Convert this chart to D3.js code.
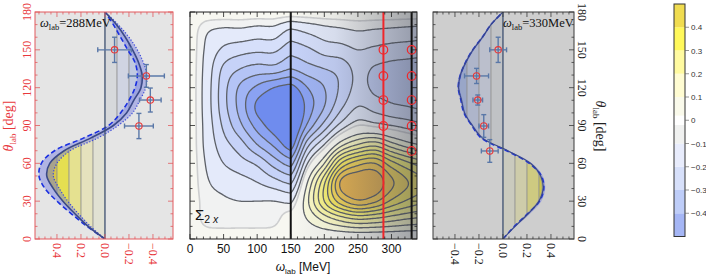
<!DOCTYPE html>
<html><head><meta charset="utf-8">
<script src="https://cdn.jsdelivr.net/npm/d3@7"></script>
<style>body{margin:0;background:#fff}svg{display:block}</style>
</head><body><svg id="c" width="706" height="276"></svg>
<script>
// ---------------- data ----------------
const thetaGrid = [0,15,30,45,60,75,90,105,120,135,150,165,180];
const omegaLeft = [0,25,50,75,100,125,150];
const sigmaLeft = [
  [0,0,0,0,0,0,0,0,0,0,0,0,0],
  [0,-0.03,-0.035,-0.045,-0.055,-0.065,-0.07,-0.075,-0.075,-0.07,-0.06,-0.045,0],
  [0,-0.035,-0.045,-0.065,-0.10,-0.13,-0.16,-0.18,-0.18,-0.16,-0.11,-0.06,0],
  [0,-0.035,-0.05,-0.08,-0.13,-0.18,-0.24,-0.27,-0.26,-0.20,-0.13,-0.06,0],
  [0,-0.035,-0.05,-0.10,-0.16,-0.25,-0.32,-0.36,-0.31,-0.22,-0.14,-0.07,0],
  [0,-0.03,-0.05,-0.13,-0.22,-0.31,-0.38,-0.40,-0.35,-0.22,-0.14,-0.07,0],
  [0,0.005,-0.06,-0.16,-0.27,-0.38,-0.43,-0.44,-0.37,-0.25,-0.18,-0.11,0]
];
const omegaRight = [175,200,225,250,275,300,325,350];
const sigmaRight = [
  [0,0.05,0.09,0.05,-0.05,-0.17,-0.29,-0.33,-0.30,-0.22,-0.16,-0.09,0],
  [0,0.11,0.25,0.24,0.10,-0.05,-0.18,-0.25,-0.25,-0.20,-0.13,-0.07,0],
  [0,0.16,0.38,0.46,0.30,0.08,-0.08,-0.16,-0.19,-0.18,-0.12,-0.06,0],
  [0,0.19,0.44,0.50,0.38,0.15,-0.02,-0.10,-0.135,-0.135,-0.10,-0.05,0],
  [0,0.18,0.41,0.49,0.40,0.18,-0.03,-0.12,-0.16,-0.155,-0.11,-0.055,0],
  [0,0.16,0.34,0.41,0.32,0.12,-0.05,-0.14,-0.17,-0.165,-0.12,-0.06,0],
  [0,0.14,0.29,0.35,0.26,0.07,-0.07,-0.15,-0.175,-0.17,-0.125,-0.065,0],
  [0,0.13,0.26,0.31,0.22,0.04,-0.09,-0.16,-0.18,-0.175,-0.13,-0.07,0]
];
const fillLevels = [-0.35,-0.3,-0.25,-0.2,-0.15,-0.1,-0.05,-0.02,0.05,0.1,0.15,0.2,0.25,0.3,0.35,0.4,0.45];
const fillColors = ["#6f8cee","#8aa2f2","#a0b4f4","#b4c4f6","#c6d2f8","#d6dffa","#e4eafa","#f1f2f2",
  "#f7f7f1","#fafadc","#fbf9c4","#fbf7a8","#f9f48c","#f6ef74","#f3e462","#f0d45a","#ebc456","#e4b252"];
const omegaTicks = [0,50,100,150,200,250,300];
const thetaTicks = [0,30,60,90,120,150,180];
const sigmaTicks = [-0.4,-0.2,0,0.2,0.4];
const markerOmegas = [150,288,330];

const thetaCurve = [0,10,20,30,40,50,60,70,80,90,100,110,120,130,140,150,160,170,180];
const sigma288  = [0,0.14,0.25,0.35,0.43,0.485,0.46,0.34,0.12,-0.07,-0.18,-0.24,-0.30,-0.31,-0.28,-0.23,-0.17,-0.095,0];
const dashed288 = [0,0.15,0.28,0.40,0.50,0.55,0.53,0.42,0.18,-0.03,-0.13,-0.20,-0.25,-0.27,-0.25,-0.19,-0.13,-0.07,0];
const dotted288 = [0,0.12,0.22,0.31,0.38,0.43,0.40,0.29,0.06,-0.11,-0.23,-0.29,-0.34,-0.35,-0.32,-0.27,-0.20,-0.11,0];
const sigma330  = [0,0.10,0.21,0.30,0.335,0.315,0.23,0.04,-0.17,-0.255,-0.32,-0.345,-0.37,-0.355,-0.31,-0.25,-0.17,-0.10,0];
const dashed330 = [0,0.095,0.205,0.305,0.34,0.32,0.22,0.03,-0.18,-0.26,-0.325,-0.35,-0.372,-0.355,-0.312,-0.252,-0.172,-0.10,0];
const bandOut330 = [0,0.11,0.225,0.32,0.352,0.332,0.242,0.05,-0.185,-0.265,-0.33,-0.355,-0.38,-0.365,-0.32,-0.26,-0.18,-0.105,0];
const bandIn330  = [0,0.09,0.195,0.288,0.322,0.302,0.218,0.03,-0.158,-0.245,-0.31,-0.335,-0.36,-0.345,-0.30,-0.24,-0.16,-0.095,0];

const data288Theta = [150,129.3,110.2,89.6];
const data288Sigma = [-0.08,-0.345,-0.378,-0.283];
const data288dSigma = [0.14,0.15,0.09,0.12];
const data288dTheta = [10,9,9.5,10];
const data330Theta = [150,129.3,110.2,89.6,69.8];
const data330Sigma = [-0.04,-0.22,-0.21,-0.16,-0.11];
const data330dSigma = [0.07,0.1,0.04,0.04,0.07];
const data330dTheta = [10,6,4,9,9];

const sideBandEdges = [-0.5,-0.4,-0.3,-0.2,-0.1,0,0.1,0.2,0.3,0.4,0.5];
const sideBandColors = ["#a5b6f5","#becdf8","#d7e0fa","#e8ecfc","#eef0f4","#fafaeb","#fffcd2","#fffaa0","#fff85a","#f0dc50"];
const cbEdges = [-0.5,-0.4,-0.3,-0.2,-0.1,-0.02,0.02,0.1,0.2,0.3,0.4,0.5];
const cbColors = ["#a5b6f5","#becdf8","#d7e0fa","#e8ecfc","#f0f1f0","#ffffff","#fafaeb","#fffcd2","#fffaa0","#fff85a","#f0dc50"];
const cbTicks = [0.4,0.3,0.2,0.1,0,-0.1,-0.2,-0.3,-0.4];

// ---------------- setup ----------------
const svg = d3.select("#c");
const defs = svg.append("defs");
const SERIF = "'Liberation Serif','Times New Roman',serif";
const SANS = "'Liberation Sans',Arial,sans-serif";
const Y0 = 12, Y1 = 239;
const yS = d3.scaleLinear().domain([0,180]).range([Y1,Y0]);
const fmt = v => (v<0?"\u2212":"") + Math.abs(v).toFixed(1);

function cr1(arr, u){
  const n = arr.length; let i = Math.floor(u);
  if (i >= n-1) return arr[n-1]; if (i < 0) return arr[0];
  const t = u - i;
  const p0 = arr[Math.max(i-1,0)], p1 = arr[i], p2 = arr[i+1], p3 = arr[Math.min(i+2,n-1)];
  return 0.5*((2*p1) + (-p0+p2)*t + (2*p0-5*p1+4*p2-p3)*t*t + (-p0+3*p1-3*p2+p3)*t*t*t);
}

function ticks(g, color, x0, x1, xs, xMaj, xMin, yMaj, yMin){
  const t = g.append("g").attr("stroke", color).attr("stroke-width", 0.8);
  xMaj.forEach(v=>{ const x=xs(v); t.append("line").attr("x1",x).attr("x2",x).attr("y1",Y1).attr("y2",Y1-5);
    t.append("line").attr("x1",x).attr("x2",x).attr("y1",Y0).attr("y2",Y0+5); });
  xMin.forEach(v=>{ const x=xs(v); t.append("line").attr("x1",x).attr("x2",x).attr("y1",Y1).attr("y2",Y1-2.5);
    t.append("line").attr("x1",x).attr("x2",x).attr("y1",Y0).attr("y2",Y0+2.5); });
  yMaj.forEach(v=>{ const y=yS(v); t.append("line").attr("x1",x0).attr("x2",x0+5).attr("y1",y).attr("y2",y);
    t.append("line").attr("x1",x1).attr("x2",x1-5).attr("y1",y).attr("y2",y); });
  yMin.forEach(v=>{ const y=yS(v); t.append("line").attr("x1",x0).attr("x2",x0+2.5).attr("y1",y).attr("y2",y);
    t.append("line").attr("x1",x1).attr("x2",x1-2.5).attr("y1",y).attr("y2",y); });
}
const thetaMinor = d3.range(0,181,10).filter(v=>v%30);
const sigMinor = d3.range(-0.55,0.56,0.05).map(v=>+v.toFixed(2)).filter(v=>Math.abs((v*10)%2)>0.01);

// ---------------- side panels ----------------
function sidePanel(cfg){
  const {id,x0,x1,xs,bg,frame,solid,dashed,bandA,bandB,dotted,tTheta,tSig,tdS,tdT,solidW} = cfg;
  const g = svg.append("g");
  defs.append("clipPath").attr("id",id+"r").append("rect").attr("x",x0).attr("y",Y0).attr("width",x1-x0).attr("height",Y1-Y0);
  g.append("rect").attr("x",x0).attr("y",Y0).attr("width",x1-x0).attr("height",Y1-Y0).attr("fill",bg);
  const gc = g.append("g").attr("clip-path",`url(#${id}r)`);
  const area0 = d3.area().curve(d3.curveCatmullRom).y((d,i)=>yS(thetaCurve[i])).x0(xs(0)).x1(d=>xs(d));
  defs.append("clipPath").attr("id",id+"a").append("path").attr("d",area0(solid));
  const ga = gc.append("g").attr("clip-path",`url(#${id}a)`);
  const b = d3.rgb(bg);
  sideBandColors.forEach((c,k)=>{
    const cc = d3.rgb(c);
    const m = d3.rgb(cc.r*b.r/255, cc.g*b.g/255, cc.b*b.b/255);
    const xa = xs(sideBandEdges[k]), xb = xs(sideBandEdges[k+1]);
    ga.append("rect").attr("x",Math.min(xa,xb)).attr("y",Y0).attr("width",Math.abs(xb-xa)).attr("height",Y1-Y0).attr("fill",m);
  });
  [-0.4,-0.3,-0.2,-0.1,0.1,0.2,0.3,0.4].forEach(v=>{
    ga.append("line").attr("x1",xs(v)).attr("x2",xs(v)).attr("y1",Y0).attr("y2",Y1).attr("stroke","#8d8d8d").attr("stroke-width",0.9);
  });
  const band = d3.area().curve(d3.curveCatmullRom).y((d,i)=>yS(thetaCurve[i])).x0((d,i)=>xs(bandA[i])).x1((d,i)=>xs(bandB[i]));
  gc.append("path").attr("d",band(thetaCurve)).attr("fill","rgba(110,120,225,0.45)");
  const line = arr => d3.line().curve(d3.curveCatmullRom).y((d,i)=>yS(thetaCurve[i])).x(d=>xs(d))(arr);
  if (dotted) gc.append("path").attr("d",line(dotted)).attr("fill","none").attr("stroke","#3a48d8").attr("stroke-width",1.2).attr("stroke-dasharray","1.2,1.8");
  gc.append("path").attr("d",line(dashed)).attr("fill","none").attr("stroke","#1a2fe0").attr("stroke-width",1.6).attr("stroke-dasharray","5,3");
  gc.append("path").attr("d",line(solid)).attr("fill","none").attr("stroke","#3b4a88").attr("stroke-width",solidW);
  gc.append("line").attr("x1",xs(0)).attr("x2",xs(0)).attr("y1",Y0).attr("y2",Y1).attr("stroke","#3e5070").attr("stroke-width",1.3);
  const ge = gc.append("g").attr("stroke","#5a78a8").attr("stroke-width",1.4);
  tTheta.forEach((t,i)=>{
    const cx = xs(tSig[i]), cy = yS(t);
    const xa = xs(tSig[i]-tdS[i]), xb = xs(tSig[i]+tdS[i]);
    const ya = yS(t-tdT[i]), yb = yS(t+tdT[i]);
    ge.append("line").attr("x1",xa).attr("x2",xb).attr("y1",cy).attr("y2",cy);
    ge.append("line").attr("x1",cx).attr("x2",cx).attr("y1",ya).attr("y2",yb);
    [xa,xb].forEach(x=>ge.append("line").attr("x1",x).attr("x2",x).attr("y1",cy-2.5).attr("y2",cy+2.5));
    [ya,yb].forEach(y=>ge.append("line").attr("x1",cx-2.5).attr("x2",cx+2.5).attr("y1",y).attr("y2",y));
  });
  tTheta.forEach((t,i)=>{
    gc.append("circle").attr("cx",xs(tSig[i])).attr("cy",yS(t)).attr("r",3.2).attr("fill","none").attr("stroke","#e83a3a").attr("stroke-width",1.1);
  });
  g.append("rect").attr("x",x0).attr("y",Y0).attr("width",x1-x0).attr("height",Y1-Y0).attr("fill","none").attr("stroke",frame).attr("stroke-width",1);
  ticks(g, frame, x0, x1, xs, sigmaTicks, sigMinor.filter(v=>xs(v)>x0+1&&xs(v)<x1-1), thetaTicks, thetaMinor);
  return g;
}

// Left panel (288 MeV)
const xL = d3.scaleLinear().domain([0.583,-0.567]).range([35,173]);
sidePanel({id:"pl",x0:35,x1:173,xs:xL,bg:"#e5e5e5",frame:"#e25a5e",solid:sigma288,dashed:dashed288,solidW:1.6,
  bandA:dashed288,bandB:dotted288,dotted:dotted288,tTheta:data288Theta,tSig:data288Sigma,tdS:data288dSigma,tdT:data288dTheta});
// Right panel (330 MeV)
const xR = d3.scaleLinear().domain([-0.583,0.592]).range([433,574]);
sidePanel({id:"pr",x0:433,x1:574,xs:xR,bg:"#cecece",frame:"#3a3a3a",solid:sigma330,dashed:dashed330,solidW:1.2,
  bandA:bandOut330,bandB:bandIn330,dotted:null,tTheta:data330Theta,tSig:data330Sigma,tdS:data330dSigma,tdT:data330dTheta});

// side panel labels
const RED = "#e8383c";
thetaTicks.forEach(t=>{
  svg.append("text").attr("transform",`translate(31,${yS(t)}) rotate(-90)`).attr("text-anchor","middle")
    .attr("font-family",SERIF).attr("font-size",12).attr("fill",RED).text(t);
  svg.append("text").attr("transform",`translate(578,${yS(t)}) rotate(90)`).attr("text-anchor","middle")
    .attr("font-family",SERIF).attr("font-size",12).attr("fill","#222").text(t);
});
sigmaTicks.forEach(v=>{
  svg.append("text").attr("transform",`translate(${xL(v)-4},243) rotate(90)`).attr("text-anchor","start")
    .attr("font-family",SERIF).attr("font-size",12).attr("fill",RED).text(fmt(v));
  svg.append("text").attr("transform",`translate(${xR(v)-4},243) rotate(90)`).attr("text-anchor","start")
    .attr("font-family",SERIF).attr("font-size",12).attr("fill","#222").text(fmt(v));
});
function thetaTitle(x, rot, color){
  const t = svg.append("text").attr("transform",`translate(${x},126) rotate(${rot})`).attr("text-anchor","middle")
    .attr("font-family",SERIF).attr("font-size",14).attr("fill",color);
  t.append("tspan").attr("font-style","italic").text("\u03b8");
  t.append("tspan").attr("font-size",9).attr("dy",3).text("lab");
  t.append("tspan").attr("dy",-3).text(" [deg]");
}
thetaTitle(13,-90,RED);
thetaTitle(596,90,"#222");
function omegaLabel(x, y, val){
  const t = svg.append("text").attr("x",x).attr("y",y).attr("font-family",SERIF).attr("font-size",12.5).attr("fill","#111");
  t.append("tspan").attr("font-style","italic").text("\u03c9");
  t.append("tspan").attr("font-size",8.5).attr("dy",3).text("lab");
  t.append("tspan").attr("dy",-3).text("="+val+"MeV");
}
omegaLabel(40,27,288);
omegaLabel(503,27,330);

// ---------------- middle contour panel ----------------
const MX0 = 190, MX1 = 417;
const xM = d3.scaleLinear().domain([0,338]).range([MX0,MX1]);
defs.append("clipPath").attr("id","mc").append("rect").attr("x",MX0).attr("y",Y0).attr("width",MX1-MX0).attr("height",Y1-Y0);
const gM = svg.append("g");
const gMc = gM.append("g").attr("clip-path","url(#mc)");

const dW = 2, nx = 170, ny = 181;
const colsR = [sigmaLeft[sigmaLeft.length-1], ...sigmaRight];
const values = new Float64Array(nx*ny);
for (let j=0;j<ny;j++){
  const u = j/15;
  const vL = sigmaLeft.map(c=>cr1(c,u));
  const vR = colsR.map(c=>cr1(c,u));
  for (let i=0;i<nx;i++){
    const w = i*dW;
    values[j*nx+i] = w<=150 ? cr1(vL, w/25) : cr1(vR, (w-150)/25);
  }
}
const proj = d3.geoTransform({point(x,y){ this.stream.point(xM((x-0.5)*dW), yS(y-0.5)); }});
const gp = d3.geoPath(proj);
const conts = d3.contours().size([nx,ny]).thresholds(fillLevels)(values);
gMc.append("rect").attr("x",MX0).attr("y",Y0).attr("width",MX1-MX0).attr("height",Y1-Y0).attr("fill",fillColors[0]);
conts.forEach((c,k)=>{
  gMc.append("path").attr("d",gp(c)).attr("fill",fillColors[k+1]);
});
conts.forEach((c,k)=>{
  const light = Math.abs(c.value) < 0.03;
  gMc.append("path").attr("d",gp(c)).attr("fill","none")
    .attr("stroke", light ? "#cdcecf" : "#5d6168").attr("stroke-width", light?1.6:1.3)
    .attr("stroke-linejoin","round");
});
// darkening overlay
const lg = defs.append("linearGradient").attr("id","ov").attr("gradientUnits","userSpaceOnUse")
  .attr("x1",xM(150)).attr("x2",MX1).attr("y1",0).attr("y2",0);
[[0,0],[0.35,0.08],[0.7,0.3],[1,0.47]].forEach(([o,a])=>lg.append("stop").attr("offset",o).attr("stop-color","rgb(60,65,80)").attr("stop-opacity",a));
gMc.append("rect").attr("x",MX0).attr("y",Y0).attr("width",MX1-MX0).attr("height",Y1-Y0).attr("fill","url(#ov)");
// vertical markers
markerOmegas.forEach(w=>{
  gMc.append("line").attr("x1",xM(w)).attr("x2",xM(w)).attr("y1",Y0).attr("y2",Y1)
    .attr("stroke", w===288 ? "#f0262a" : "#111").attr("stroke-width",2);
});
data288Theta.forEach(t=>gMc.append("circle").attr("cx",xM(288)).attr("cy",yS(t)).attr("r",4.3).attr("fill","none").attr("stroke","#f0282c").attr("stroke-width",1.2));
data330Theta.forEach(t=>gMc.append("circle").attr("cx",xM(330)).attr("cy",yS(t)).attr("r",4.3).attr("fill","none").attr("stroke","#f0282c").attr("stroke-width",1.2));
gM.append("rect").attr("x",MX0).attr("y",Y0).attr("width",MX1-MX0).attr("height",Y1-Y0).attr("fill","none").attr("stroke","#222").attr("stroke-width",1);
ticks(gM,"#222",MX0,MX1,xM,omegaTicks,d3.range(10,338,10).filter(v=>v%50),thetaTicks,thetaMinor);
omegaTicks.forEach(w=>{
  gM.append("text").attr("x",xM(w)).attr("y",253).attr("text-anchor","middle").attr("font-family",SANS).attr("font-size",12).attr("fill","#111").text(w);
});
{
  const t = gM.append("text").attr("x",303).attr("y",271).attr("text-anchor","middle").attr("font-family",SANS).attr("font-size",12).attr("fill","#111");
  t.append("tspan").attr("font-style","italic").text("\u03c9");
  t.append("tspan").attr("font-size",8).attr("dy",3).text("lab");
  t.append("tspan").attr("dy",-3).text(" [MeV]");
  const s = gM.append("text").attr("x",195).attr("y",220).attr("font-family",SANS).attr("font-size",15).attr("fill","#111");
  s.append("tspan").text("\u03a3");
  s.append("tspan").attr("font-size",10.5).attr("dy",3).text("2");
  s.append("tspan").attr("font-size",10.5).attr("font-style","italic").text(" x");
}

// ---------------- colorbar ----------------
const cbY = d3.scaleLinear().domain([-0.5,0.5]).range([236.5,4]);
const gC = svg.append("g");
cbColors.forEach((c,k)=>{
  const ya = cbY(cbEdges[k+1]), yb = cbY(cbEdges[k]);
  gC.append("rect").attr("x",674).attr("y",ya).attr("width",11).attr("height",yb-ya).attr("fill",c);
});
gC.append("rect").attr("x",674).attr("y",4).attr("width",11).attr("height",232.5).attr("fill","none").attr("stroke","#333").attr("stroke-width",1);
cbTicks.forEach(v=>{
  gC.append("line").attr("x1",685).attr("x2",689).attr("y1",cbY(v)).attr("y2",cbY(v)).attr("stroke","#666").attr("stroke-width",0.7);
  gC.append("text").attr("x",691).attr("y",cbY(v)+3).attr("font-family",SANS).attr("font-size",8).attr("fill","#333")
    .text(v===0?"0":(v<0?"\u2212":"")+Math.abs(v).toFixed(1));
});
</script></body></html>
